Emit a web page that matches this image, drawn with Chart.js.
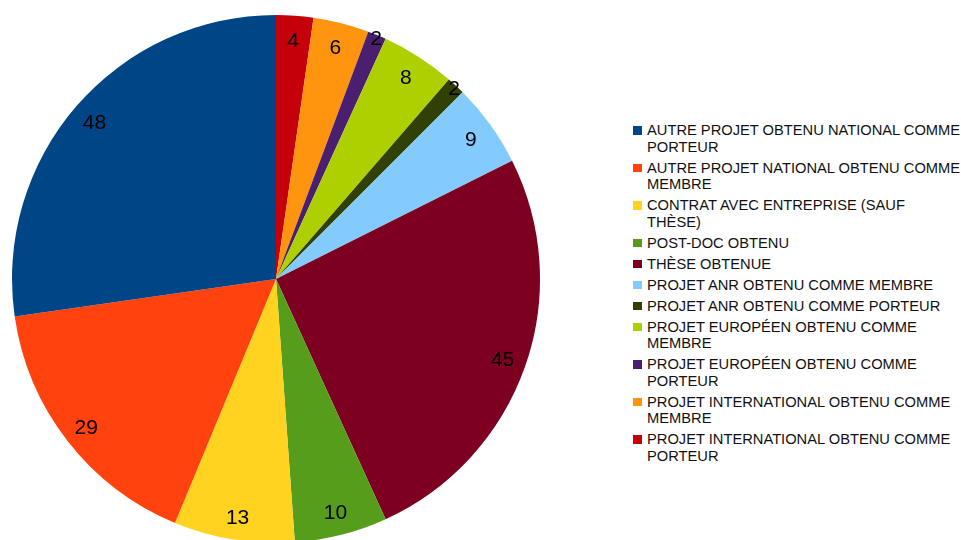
<!DOCTYPE html>
<html>
<head>
<meta charset="utf-8">
<script src="https://cdn.jsdelivr.net/npm/chart.js@4.4.1/dist/chart.umd.min.js"></script>
<style>
  html, body { margin: 0; padding: 0; background: #fff; width: 961px; height: 540px; overflow: hidden; }
  #wrap { position: absolute; left: 0; top: 0; width: 552px; height: 558px; }
  #legend { position: absolute; left: 633px; top: 122px; font-family: "Liberation Sans", Arial, sans-serif; font-size: 14.7px; line-height: 16.5px; color: #111; }
  .item { position: relative; padding-left: 14px; width: 320px; margin-bottom: 4.5px; white-space: pre-line; }
  .box { position: absolute; left: 0; top: 4px; width: 8.5px; height: 8.5px; }
</style>
</head>
<body>
<div id="wrap"><canvas id="chart1"></canvas></div>
<div id="legend"></div>
<script>
// legend order (the pie runs the other way round from the top)
const categories = [
  'AUTRE PROJET OBTENU NATIONAL COMME\nPORTEUR',
  'AUTRE PROJET NATIONAL OBTENU COMME\nMEMBRE',
  'CONTRAT AVEC ENTREPRISE (SAUF\nTHÈSE)',
  'POST-DOC OBTENU',
  'THÈSE OBTENUE',
  'PROJET ANR OBTENU COMME MEMBRE',
  'PROJET ANR OBTENU COMME PORTEUR',
  'PROJET EUROPÉEN OBTENU COMME\nMEMBRE',
  'PROJET EUROPÉEN OBTENU COMME\nPORTEUR',
  'PROJET INTERNATIONAL OBTENU COMME\nMEMBRE',
  'PROJET INTERNATIONAL OBTENU COMME\nPORTEUR'
];
const values = [48, 29, 13, 10, 45, 9, 2, 8, 2, 6, 4];
const colors = ['#004586', '#ff420e', '#ffd320', '#579d1c', '#7e0021', '#83caff',
                '#314004', '#aecf00', '#4b1f6f', '#ff950e', '#c5000b'];

const pieLabels = categories.map(c => c.replace('\n', ' ')).reverse();
const pieValues = values.slice().reverse();
const pieColors = colors.slice().reverse();

const sliceLabels = {
  id: 'sliceLabels',
  afterDatasetsDraw(chart) {
    const ctx = chart.ctx;
    const meta = chart.getDatasetMeta(0);
    const total = pieValues.reduce((a, b) => a + b, 0);
    ctx.save();
    ctx.font = '21px "Liberation Sans", Arial, sans-serif';
    ctx.fillStyle = '#000';
    ctx.textAlign = 'center';
    ctx.textBaseline = 'alphabetic';
    meta.data.forEach((arc, i) => {
      const p = arc.getProps(['x', 'y', 'startAngle', 'endAngle', 'outerRadius'], true);
      const mid = (p.startAngle + p.endAngle) / 2;
      const small = pieValues[i] / total < 0.02;
      const r = p.outerRadius * (small ? 0.99 : 0.91);
      ctx.fillText(String(pieValues[i]), p.x + Math.cos(mid) * r, p.y + Math.sin(mid) * r + 7.5);
    });
    ctx.restore();
  }
};

const chart1 = new Chart(document.getElementById('chart1'), {
  type: 'pie',
  plugins: [sliceLabels],
  options: {
    responsive: true,
    maintainAspectRatio: false,
    animation: false,
    layout: { padding: { left: 12, right: 12, top: 15, bottom: 15 } },
    plugins: {
      legend: { display: false },
      tooltip: { enabled: false }
    }
  },
  data: {
    labels: pieLabels,
    datasets: [{
      data: pieValues,
      backgroundColor: pieColors,
      borderWidth: 0
    }]
  }
});

// html legend so the long labels sit on two lines
const legend = document.getElementById('legend');
categories.forEach((c, i) => {
  const item = document.createElement('div');
  item.className = 'item';
  const box = document.createElement('span');
  box.className = 'box';
  box.style.background = colors[i];
  item.appendChild(box);
  item.appendChild(document.createTextNode(c));
  legend.appendChild(item);
});
</script>
</body>
</html>
